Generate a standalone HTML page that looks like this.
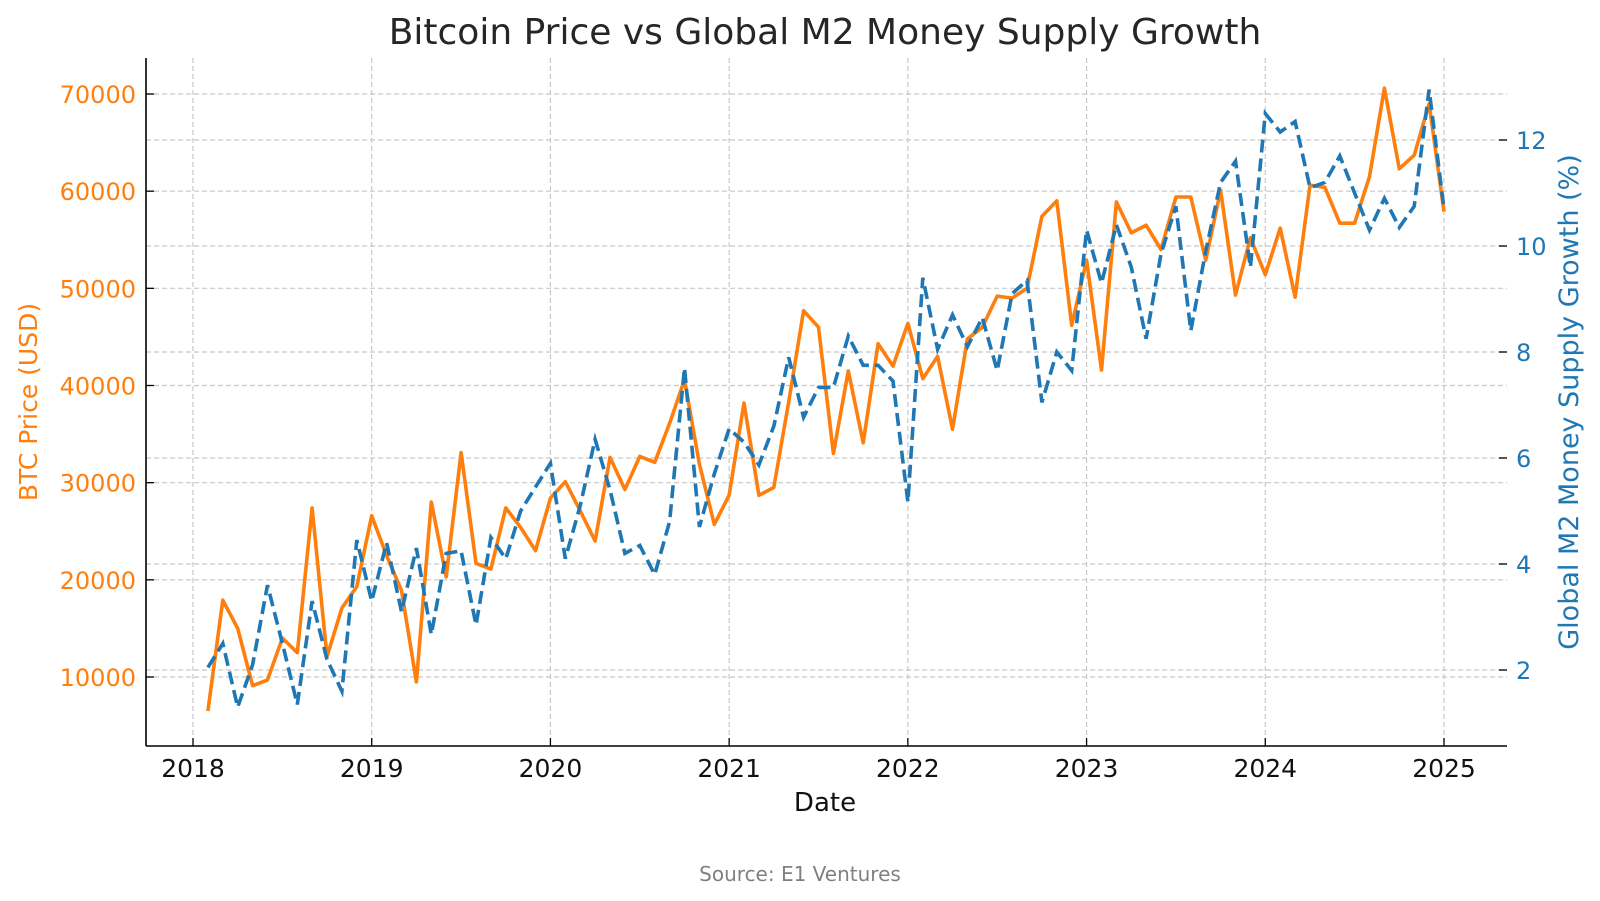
<!DOCTYPE html>
<html><head><meta charset="utf-8"><style>
html,body{margin:0;padding:0;background:#fff;}
svg{display:block;font-family:"DejaVu Sans","Liberation Sans",sans-serif;}
</style></head><body>
<svg id="chart" width="1600" height="901" viewBox="0 0 1600 901">
<text x="825" y="44" text-anchor="middle" font-size="36" fill="#262626">Bitcoin Price vs Global M2 Money Supply Growth</text>
<g id="grid"></g>
<g id="axes"></g>
<g id="series"></g>
<text x="825" y="811" text-anchor="middle" font-size="26" fill="#111">Date</text>
<text transform="translate(37,402) rotate(-90)" text-anchor="middle" font-size="25" fill="#ff7f0e">BTC Price (USD)</text>
<text transform="translate(1578,402) rotate(-90)" text-anchor="middle" font-size="27" fill="#1f77b4">Global M2 Money Supply Growth (%)</text>
<text x="800" y="881" text-anchor="middle" font-size="20" fill="#808080">Source: E1 Ventures</text>
</svg>
<script>
const years = [2018,2019,2020,2021,2022,2023,2024,2025];
const btcTicks = [10000,20000,30000,40000,50000,60000,70000];
const m2Ticks = [2,4,6,8,10,12];
const btcPrice = [6500,17900,15000,9100,9700,14000,12500,27400,12100,17100,19300,26600,
22500,18900,9500,28000,20300,33100,21700,21100,27400,25400,23000,28400,
30100,27100,24000,32600,29300,32700,32100,36100,40600,31900,25700,28700,
38200,28700,29500,38300,47700,46000,33000,41500,34100,44300,42000,46400,
40700,43000,35500,44800,46000,49200,49000,50000,57400,59000,46200,52900,
41600,58900,55700,56500,54000,59400,59400,52900,60100,49300,55200,51400,
56200,49100,60600,60400,56700,56700,61500,70600,62300,63700,69000,57900];
const m2Growth = [2.05,2.5,1.3,2.1,3.6,2.5,1.35,3.3,2.2,1.6,4.45,3.3,
4.4,3.1,4.3,2.67,4.2,4.25,2.85,4.5,4.1,5.0,5.45,5.9,
4.1,5.1,6.35,5.4,4.2,4.35,3.8,4.8,7.7,4.7,5.7,6.55,
6.3,5.87,6.6,7.9,6.77,7.33,7.33,8.3,7.75,7.75,7.45,5.17,
9.4,8.05,8.7,8.1,8.65,7.65,9.1,9.35,7.05,8.0,7.65,10.3,
9.3,10.4,9.6,8.25,9.85,10.75,8.4,9.9,11.2,11.6,9.6,12.5,
12.15,12.35,11.1,11.2,11.7,11.0,10.3,10.9,10.35,10.75,12.95,10.7];

const L=146,R=1507,T=58,B=746;
const x0=193,x1=1444;
const xYear=y=>x0+(y-2018)*(x1-x0)/7;
const xIdx=i=>x0+(i+1)*(x1-x0)/84;
const yBtc=v=>677-(v-10000)*(677-94)/60000;
const yM2=v=>670-(v-2)*(670-140)/10;
const NS="http://www.w3.org/2000/svg";
function mk(tag,parent){const e=document.createElementNS(NS,tag);parent.appendChild(e);return e;}
const grid=document.getElementById('grid'),axes=document.getElementById('axes'),series=document.getElementById('series');

years.forEach(y=>{
  const l=mk('line',grid);
  
  
  l.setAttribute('x1',xYear(y));l.setAttribute('x2',xYear(y));l.setAttribute('y1',T);l.setAttribute('y2',B);
  l.setAttribute('stroke','#c8c8c8');l.setAttribute('stroke-width','1.2');l.setAttribute('stroke-dasharray','5,3');
  const tk=mk('line',axes);
  
  
  tk.setAttribute('x1',xYear(y));tk.setAttribute('x2',xYear(y));tk.setAttribute('y1',B);tk.setAttribute('y2',B-8);
  tk.setAttribute('stroke','#000');tk.setAttribute('stroke-width','1.3');
  const t=mk('text',axes);
  
  
  t.setAttribute('x',xYear(y));t.setAttribute('y',777);t.setAttribute('text-anchor','middle');
  t.setAttribute('font-size','25');t.setAttribute('fill','#111');t.textContent=y;
});
btcTicks.forEach(v=>{
  const l=mk('line',grid);
  
  
  l.setAttribute('x1',L);l.setAttribute('x2',R);l.setAttribute('y1',yBtc(v));l.setAttribute('y2',yBtc(v));
  l.setAttribute('stroke','#c8c8c8');l.setAttribute('stroke-width','1.2');l.setAttribute('stroke-dasharray','5,3');
  const tk=mk('line',axes);
  
  
  tk.setAttribute('x1',L);tk.setAttribute('x2',L+8);tk.setAttribute('y1',yBtc(v));tk.setAttribute('y2',yBtc(v));
  tk.setAttribute('stroke','#000');tk.setAttribute('stroke-width','1.3');
  const t=mk('text',axes);
  
  
  t.setAttribute('x',136);t.setAttribute('y',yBtc(v)+9);t.setAttribute('text-anchor','end');
  t.setAttribute('font-size','24');t.setAttribute('fill','#ff7f0e');t.textContent=v;
});
m2Ticks.forEach(v=>{
  const l=mk('line',grid);
  
  
  l.setAttribute('x1',L);l.setAttribute('x2',R);l.setAttribute('y1',yM2(v));l.setAttribute('y2',yM2(v));
  l.setAttribute('stroke','#c8c8c8');l.setAttribute('stroke-width','1.2');l.setAttribute('stroke-dasharray','5,3');
  const tk=mk('line',axes);
  
  
  tk.setAttribute('x1',R);tk.setAttribute('x2',R-8);tk.setAttribute('y1',yM2(v));tk.setAttribute('y2',yM2(v));
  tk.setAttribute('stroke','#000');tk.setAttribute('stroke-width','1.3');
  const t=mk('text',axes);
  
  
  t.setAttribute('x',1516);t.setAttribute('y',yM2(v)+9);t.setAttribute('text-anchor','start');
  t.setAttribute('font-size','24');t.setAttribute('fill','#1f77b4');t.textContent=v;
});
const ls=mk('line',axes);


ls.setAttribute('x1',L);ls.setAttribute('x2',L);ls.setAttribute('y1',T);ls.setAttribute('y2',B);
ls.setAttribute('stroke','#000');ls.setAttribute('stroke-width','1.6');
const bs=mk('line',axes);


bs.setAttribute('x1',L);bs.setAttribute('x2',R);bs.setAttribute('y1',B);bs.setAttribute('y2',B);
bs.setAttribute('stroke','#000');bs.setAttribute('stroke-width','1.6');

const btcLine=mk('polyline',series);


btcLine.setAttribute('points',btcPrice.map((v,i)=>xIdx(i).toFixed(1)+','+yBtc(v).toFixed(1)).join(' '));
btcLine.setAttribute('fill','none');btcLine.setAttribute('stroke','#ff7f0e');btcLine.setAttribute('stroke-width','3.6');
btcLine.setAttribute('stroke-linejoin','round');

const m2Line=mk('polyline',series);


m2Line.setAttribute('points',m2Growth.map((v,i)=>xIdx(i).toFixed(1)+','+yM2(v).toFixed(1)).join(' '));
m2Line.setAttribute('fill','none');m2Line.setAttribute('stroke','#1f77b4');m2Line.setAttribute('stroke-width','3.6');
m2Line.setAttribute('stroke-dasharray','13,6');
</script>
</body></html>
